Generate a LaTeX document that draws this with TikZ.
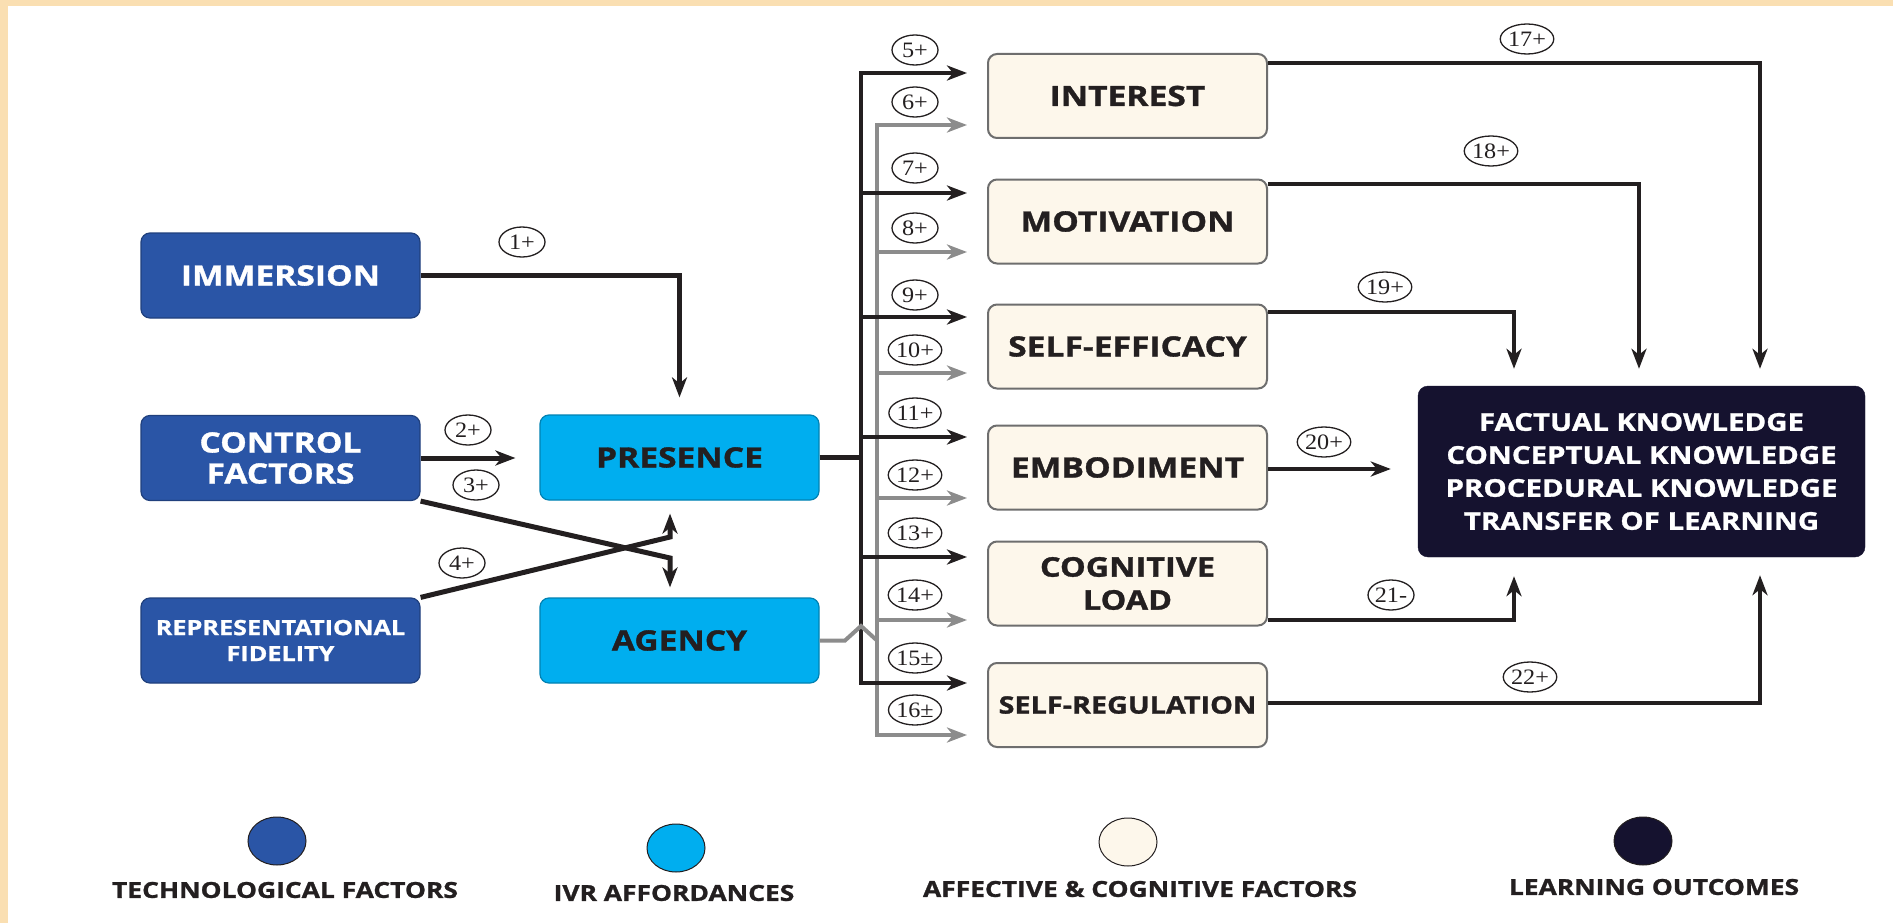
\documentclass[tikz,border=0pt]{standalone}
\usepackage{fontspec}
\setmainfont{Liberation Serif}[FakeStretch=1.1]
\newfontfamily\bx{Open Sans}[UprightFont={* Bold}, FakeStretch=1.2, FakeBold=1.2]
\usetikzlibrary{arrows.meta,shapes.geometric}
\definecolor{techblue}{HTML}{2A55A6}
\definecolor{ivrblue}{HTML}{00AEEF}
\definecolor{cream}{HTML}{FDF7EB}
\definecolor{navy}{HTML}{15122F}
\definecolor{peach}{HTML}{FADFB2}
\definecolor{ink}{HTML}{231F20}
\definecolor{arrgray}{HTML}{8C8C8C}
\definecolor{boxedge}{HTML}{6E6E6E}
\begin{document}
\begin{tikzpicture}[x=1pt,y=-1pt,
  box/.style={rectangle, rounded corners=9pt, minimum width=279pt, minimum height=85pt, inner sep=0pt, align=center, font=\bx\fontsize{28}{31}\selectfont},
  tech/.style={box, fill=techblue, draw=techblue!75!black, line width=1.2pt, text=white},
  ivr/.style={box, fill=ivrblue, draw=ivrblue!75!black, line width=1.2pt, text=ink},
  aff/.style={box, fill=cream, draw=boxedge, line width=2pt, text=ink, minimum height=84pt},
  outc/.style={box, rounded corners=10pt, fill=navy, draw=navy, text=white, minimum width=447pt, minimum height=171pt, font=\bx\fontsize{24.5}{33}\selectfont},
  num/.style={ellipse, draw=ink, line width=1.3pt, fill=white, minimum width=46pt, minimum height=30pt, inner sep=0pt, font=\fontsize{22}{22}\selectfont, text=ink},
  legdot/.style={ellipse, draw=ink, line width=1pt, minimum width=58pt, minimum height=48pt, inner sep=0pt},
  legtext/.style={font=\bx\fontsize{22}{22}\selectfont, text=ink, inner sep=0pt},
  bl/.style={draw=ink, line width=4.5pt},
  gl/.style={draw=arrgray, line width=4.5pt},
  ahead/.style={arrows={-Stealth[length=20pt,width=15pt,inset=6pt]}},
  bothheads/.style={arrows={Stealth[length=20pt,width=15pt,inset=6pt]-Stealth[length=20pt,width=15pt,inset=6pt]}}
]
\useasboundingbox (0,0) rectangle (1893,923);
\fill[white] (0,0) rectangle (1893,923);
\fill[peach] (0,0) rectangle (1893,6);
\fill[peach] (0,0) rectangle (8,923);

% boxes
\node[tech] (immersion) at (280.5,275.5) {IMMERSION};
\node[tech] (control) at (280.5,458) {CONTROL\\FACTORS};
\node[tech, font=\bx\fontsize{21}{26}\selectfont] (repr) at (280.5,640.5) {REPRESENTATIONAL\\FIDELITY};
\node[ivr] (presence) at (679.5,457.5) {PRESENCE};
\node[ivr] (agency) at (679.5,640.5) {AGENCY};
\node[aff] (interest) at (1127.5,96) {INTEREST};
\node[aff] (motivation) at (1127.5,221.5) {MOTIVATION};
\node[aff] (selfeff) at (1127.5,346.5) {SELF-EFFICACY};
\node[aff] (embod) at (1127.5,467.5) {EMBODIMENT};
\node[aff, font=\bx\fontsize{27}{33}\selectfont] (cogload) at (1127.5,583.5) {COGNITIVE\\LOAD};
\node[aff, font=\bx\fontsize{24}{30}\selectfont] (selfreg) at (1127.5,705) {SELF-REGULATION};
\node[outc] (outcome) at (1641.5,471.5) {FACTUAL KNOWLEDGE\\CONCEPTUAL KNOWLEDGE\\PROCEDURAL KNOWLEDGE\\TRANSFER OF LEARNING};

% coordinates
\coordinate (bt) at (861,73);
\coordinate (bb) at (861,683);
\coordinate (gt) at (877,125);
\coordinate (gb) at (877,735);
\coordinate (b7) at (861,193);
\coordinate (b9) at (861,317);
\coordinate (b11) at (861,437);
\coordinate (b13) at (861,557);
\coordinate (g8) at (877,252);
\coordinate (g10) at (877,373);
\coordinate (g12) at (877,498);
\coordinate (g14) at (877,620);
\coordinate (h1) at (845,640.5);
\coordinate (h2) at (861,626);
\coordinate (h3) at (877,640.5);
\coordinate (c3) at (670,558);
\coordinate (c4) at (670,537);
\coordinate (xr) at (1760,0);
\coordinate (xm) at (1639,0);
\coordinate (xl) at (1514,0);

% gray trunk and branches
\draw[gl, bothheads, shorten <=20pt, shorten >=20pt] (interest.west |- gt) -- (gt) -- (gb) -- (selfreg.west |- gb);
\draw[gl, ahead, shorten >=20pt] (g8) -- (motivation.west |- g8);
\draw[gl, ahead, shorten >=20pt] (g10) -- (selfeff.west |- g10);
\draw[gl, ahead, shorten >=20pt] (g12) -- (embod.west |- g12);
\draw[gl, ahead, shorten >=20pt] (g14) -- (cogload.west |- g14);

% black trunk and branches
\draw[bl] (presence.east) -- (presence.east -| bt);
\draw[bl, bothheads, shorten <=20pt, shorten >=20pt] (interest.west |- bt) -- (bt) -- (bb) -- (selfreg.west |- bb);
\draw[bl, ahead, shorten >=20pt] (b7) -- (motivation.west |- b7);
\draw[bl, ahead, shorten >=20pt] (b9) -- (selfeff.west |- b9);
\draw[bl, ahead, shorten >=20pt] (b11) -- (embod.west |- b11);
\draw[bl, ahead, shorten >=20pt] (b13) -- (cogload.west |- b13);

% agency hop
\draw[gl, line width=4pt] (agency.east) -- (h1) -- (h2) -- (h3);

% left connectors
\draw[bl, line width=5pt, ahead, shorten >=17pt] (immersion.east) -| (presence.north);
\draw[bl, line width=5pt, ahead, shorten >=24pt] (control.east) -- (presence.west |- control.east);
\draw[bl, line width=5pt, ahead, shorten >=10pt] (control.south east) -- (c3) -- (agency.north -| c3);
\draw[bl, line width=5pt, ahead, shorten >=13pt] (repr.north east) -- (c4) -- (presence.south -| c4);

% right connectors
\draw[bl, ahead, shorten >=17pt] (interest.east |- 0,63) -| (outcome.north -| xr);
\draw[bl, ahead, shorten >=17pt] (motivation.east |- 0,184) -| (outcome.north -| xm);
\draw[bl, ahead, shorten >=17pt] (selfeff.east |- 0,312) -| (outcome.north -| xl);
\draw[bl, ahead, shorten >=27pt] (embod.east |- 0,469) -- (outcome.west |- 0,469);
\draw[bl, ahead, shorten >=19pt] (cogload.east |- 0,620) -| (outcome.south -| xl);
\draw[bl, ahead, shorten >=18pt] (selfreg.east |- 0,703) -| (outcome.south -| xr);

% number labels
\node[num] (n1) at (522,242) {1+};
\node[num] (n2) at (468,430) {2+};
\node[num] (n3) at (476,485) {3+};
\node[num] (n4) at (462,563) {4+};
\node[num] (n5) at (915,50) {5+};
\node[num] (n6) at (915,102) {6+};
\node[num] (n7) at (915,168) {7+};
\node[num] (n8) at (915,228) {8+};
\node[num] (n9) at (915,295) {9+};
\node[num] (n10) at (915,350) {10+};
\node[num] (n11) at (915,413) {11+};
\node[num] (n12) at (915,475) {12+};
\node[num] (n13) at (915,533) {13+};
\node[num] (n14) at (915,595) {14+};
\node[num] (n15) at (915,658) {15±};
\node[num] (n16) at (915,710) {16±};
\node[num] (n17) at (1527,39) {17+};
\node[num] (n18) at (1491,151) {18+};
\node[num] (n19) at (1385,287) {19+};
\node[num] (n20) at (1324,442) {20+};
\node[num] (n21) at (1391,595) {21-};
\node[num] (n22) at (1530,677) {22+};

% legend
\node[legdot, fill=techblue] (lg1) at (277,841) {};
\node[legdot, fill=ivrblue] (lg2) at (676,848) {};
\node[legdot, fill=cream] (lg3) at (1128,842) {};
\node[legdot, fill=navy] (lg4) at (1643,841) {};
\node[legtext] (lt1) at (285,890) {TECHNOLOGICAL FACTORS};
\node[legtext] (lt2) at (674,893) {IVR AFFORDANCES};
\node[legtext] (lt3) at (1140,889) {AFFECTIVE \& COGNITIVE FACTORS};
\node[legtext] (lt4) at (1654,887) {LEARNING OUTCOMES};
\end{tikzpicture}
\end{document}
